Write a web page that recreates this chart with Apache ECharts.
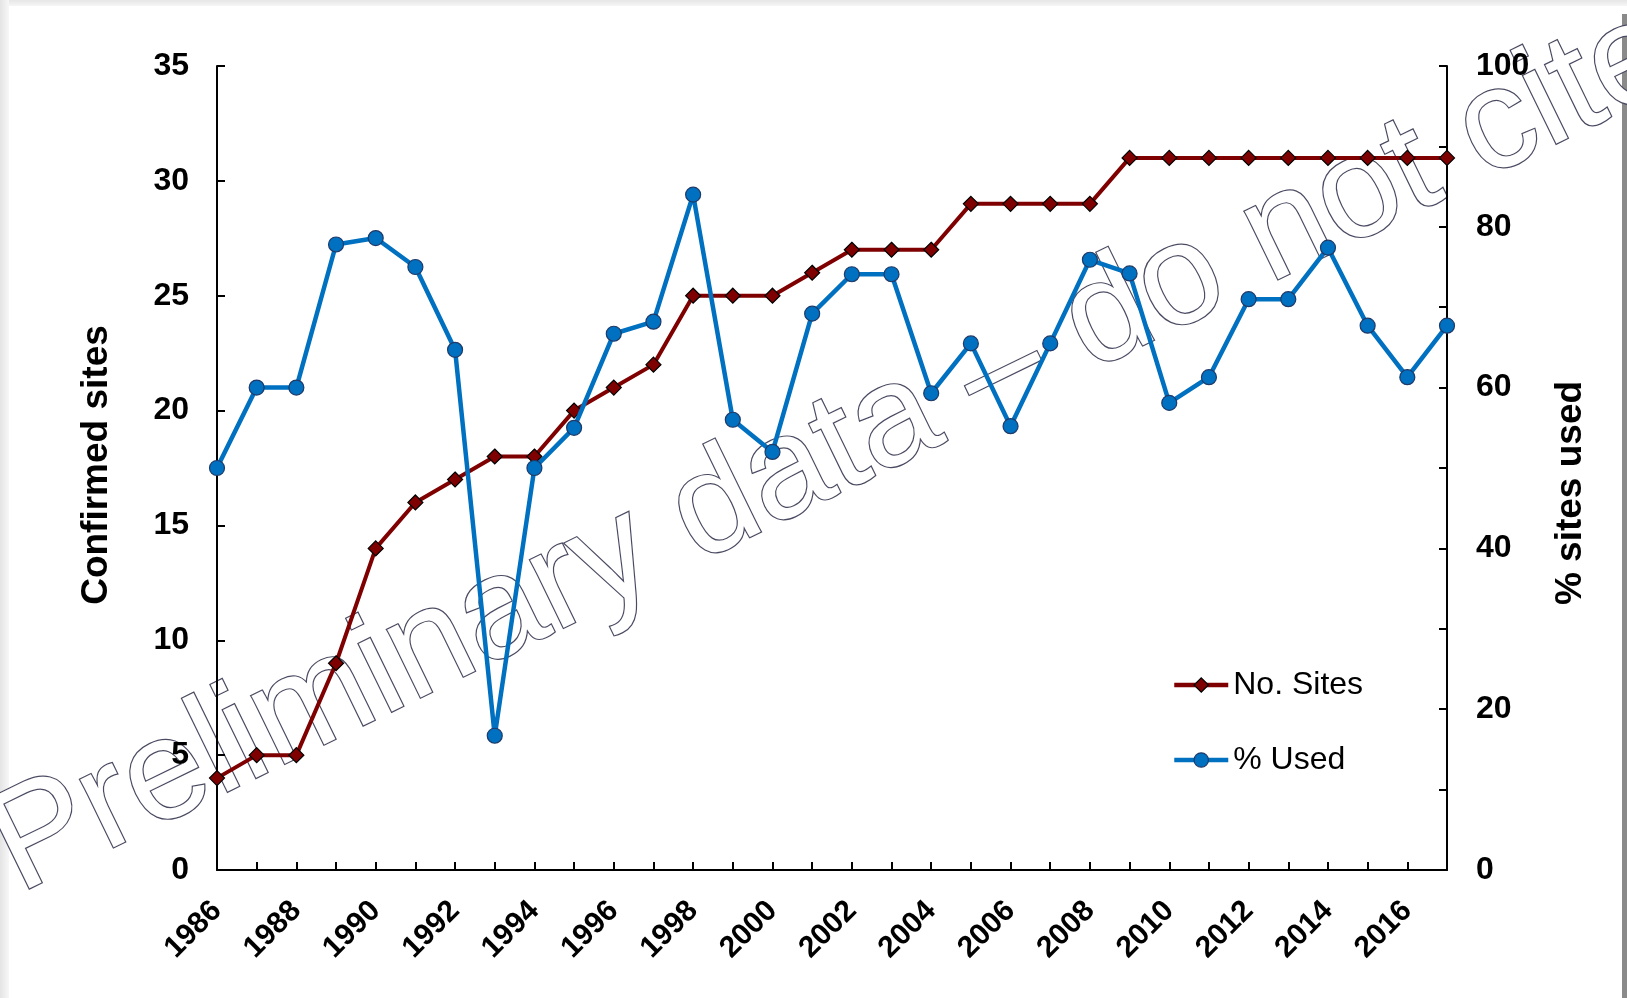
<!DOCTYPE html>
<html>
<head>
<meta charset="utf-8">
<script src="https://cdn.jsdelivr.net/npm/echarts@6/dist/echarts.min.js"></script>
<style>
html,body{margin:0;padding:0;background:#ffffff;}
#chart{width:1627px;height:998px;}
</style>
</head>
<body>
<div id="chart"></div>
<script>
// ---- data ----
const years = ['1986','1987','1988','1989','1990','1991','1992','1993','1994','1995',
               '1996','1997','1998','1999','2000','2001','2002','2003','2004','2005',
               '2006','2007','2008','2009','2010','2011','2012','2013','2014','2015',
               '2016','2017'];
const noSites = [4,5,5,9,14,16,17,18,18,20,
                 21,22,25,25,25,26,27,27,27,29,
                 29,29,29,31,31,31,31,31,31,31,
                 31,31];
const pctUsed = [50.0,60.0,60.0,77.8,78.6,75.0,64.7,16.7,50.0,55.0,
                 66.7,68.2,84.0,56.0,52.0,69.2,74.1,74.1,59.3,65.5,
                 55.2,65.5,75.9,74.2,58.1,61.3,71.0,71.0,77.4,67.7,
                 61.3,67.7];
const leftTicks = [0,5,10,15,20,25,30,35];
const rightTicks = [0,10,20,30,40,50,60,70,80,90,100];
const rightLabels = [0,20,40,60,80,100];
const seriesNames = ['No. Sites','% Used'];
const axisTitles = ['Confirmed sites','% sites used'];
const watermarkText = 'Preliminary data \u2013 do not cite';

// ---- styles ----
const FONT = 'Arial, "Liberation Sans", sans-serif';
const RED = '#7f0000';
const BLUE = '#0070c0';

const chart = echarts.init(document.getElementById('chart'), null, {renderer:'canvas'});

const axisCommon = {
  axisLine: {show:true, lineStyle:{color:'#000', width:2}},
  axisTick: {show:true, inside:true, length:8, lineStyle:{color:'#000', width:2}},
  splitLine: {show:false}
};

const option = {
  backgroundColor: '#ffffff',
  animation: false,
  grid: {left:217, right:180, top:66, bottom:128, containLabel:false},
  legend: {
    orient: 'vertical',
    left: 1172,
    top: 669,
    padding: 0,
    itemGap: 43,
    itemWidth: 54,
    itemHeight: 18,
    data: seriesNames,
    textStyle: {fontFamily: FONT, fontSize: 32, color:'#000'},
    lineStyle: {width: 4.5},
    itemStyle: {borderWidth: 1.2}
  },
  xAxis: {
    type: 'category',
    data: years,
    boundaryGap: false,
    ...axisCommon,
    axisTick: {show:true, inside:true, length:8, interval:0, lineStyle:{color:'#000', width:2}},
    axisLabel: {
      interval: 1, rotate: 45, margin: 36,
      fontFamily: FONT, fontWeight:'bold', fontSize: 30, color:'#000'
    }
  },
  yAxis: [
    {
      type: 'value',
      position: 'left',
      min: leftTicks[0], max: leftTicks[leftTicks.length-1],
      interval: leftTicks[1]-leftTicks[0],
      ...axisCommon,
      axisLabel: {margin: 28, fontFamily: FONT, fontWeight:'bold', fontSize: 32, color:'#000'}
    },
    {
      type: 'value',
      position: 'right',
      min: rightTicks[0], max: rightTicks[rightTicks.length-1],
      interval: rightTicks[1]-rightTicks[0],
      ...axisCommon,
      axisLabel: {
        margin: 29, fontFamily: FONT, fontWeight:'bold', fontSize: 32, color:'#000',
        formatter: v => rightLabels.indexOf(v) >= 0 ? String(v) : ''
      }
    }
  ],
  series: [
    {
      name: seriesNames[0],
      type: 'line',
      yAxisIndex: 0,
      data: noSites,
      symbol: 'diamond',
      symbolSize: 15,
      showAllSymbol: true,
      lineStyle: {color: RED, width: 4},
      itemStyle: {color: RED, borderColor:'#000', borderWidth:1.2},
      z: 3
    },
    {
      name: seriesNames[1],
      type: 'line',
      yAxisIndex: 1,
      data: pctUsed,
      symbol: 'circle',
      symbolSize: 15,
      showAllSymbol: true,
      lineStyle: {color: BLUE, width: 4.5},
      itemStyle: {color: BLUE, borderColor:'#1f3a68', borderWidth:1.2},
      z: 4
    }
  ],
  graphic: [
    // page frame
    {type:'rect', z:-30, silent:true, shape:{x:0,y:0,width:1627,height:6},
     style:{fill:new echarts.graphic.LinearGradient(0,0,0,1,[{offset:0,color:'#e6e6e6'},{offset:1,color:'#f6f6f6'}])}},
    {type:'rect', z:-30, silent:true, shape:{x:0,y:0,width:9,height:998},
     style:{fill:new echarts.graphic.LinearGradient(0,0,1,0,[{offset:0,color:'#e4e4e4'},{offset:1,color:'#f7f7f7'}])}},
    {type:'rect', z:-30, silent:true, shape:{x:1622,y:14,width:5,height:984}, style:{fill:'#8a8a8a'}},
    // watermark
    {type:'text', z:-20, silent:true, x:834, y:452, rotation: 26*Math.PI/180,
     style:{text: watermarkText, font: '143px ' + FONT, textAlign:'center', textVerticalAlign:'middle',
            fill:'#ffffff', stroke:'#4a4a62', lineWidth:2.4,
            shadowBlur:8, shadowOffsetX:4, shadowOffsetY:5, shadowColor:'rgba(0,0,0,0.5)'}},
    // axis titles
    {type:'text', silent:true, x:97, y:465, rotation: Math.PI/2,
     style:{text: axisTitles[0], font:'bold 37px ' + FONT, fill:'#000', textAlign:'center', textVerticalAlign:'middle'}},
    {type:'text', silent:true, x:1571, y:493, rotation: Math.PI/2,
     style:{text: axisTitles[1], font:'bold 37px ' + FONT, fill:'#000', textAlign:'center', textVerticalAlign:'middle'}}
  ]
};
chart.setOption(option);
</script>
</body>
</html>
